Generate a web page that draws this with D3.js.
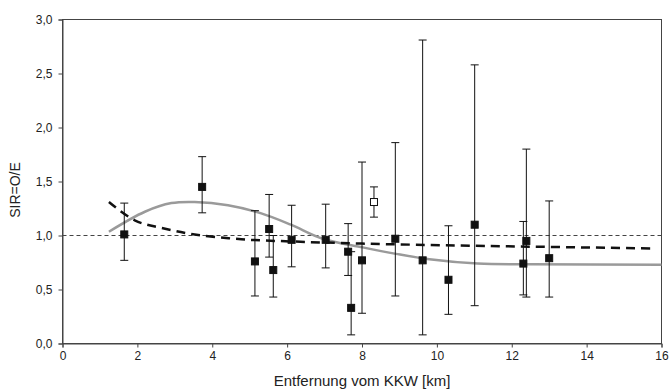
<!DOCTYPE html>
<html>
<head>
<meta charset="utf-8">
<script src="https://cdn.jsdelivr.net/npm/d3@7"></script>
<style>
  body { margin: 0; background: #fff; }
  text { font-family: "Liberation Sans", Arial, sans-serif; fill: #222; }
</style>
</head>
<body>
<div id="chart"></div>
<script>
// Messpunkte (Entfernung in km, SIR mit Konfidenzintervall)
var distance = [1.65, 3.73, 5.14, 5.52, 5.63, 6.12, 7.03, 7.63, 7.71, 8.0, 8.89, 9.62, 10.31, 11.01, 12.31, 12.39, 13.0];
var sir      = [1.01, 1.45, 0.76, 1.06, 0.68, 0.96, 0.96, 0.85, 0.33, 0.77, 0.97, 0.77, 0.59, 1.10, 0.74, 0.95, 0.79];
var upper    = [1.30, 1.73, 1.23, 1.38, 1.00, 1.28, 1.29, 1.11, 0.85, 1.68, 1.86, 2.81, 1.09, 2.58, 1.13, 1.80, 1.32];
var lower    = [0.77, 1.21, 0.44, 0.80, 0.43, 0.71, 0.70, 0.63, 0.08, 0.28, 0.44, 0.08, 0.27, 0.35, 0.45, 0.43, 0.43];

// offener Punkt
var openDistance = [8.32];
var openSir = [1.31];
var openUpper = [1.45];
var openLower = [1.17];

// Trendkurven
var dashX = [1.24, 1.93, 2.64, 3.53, 4.78, 6.11, 8.0, 11.0, 15.8];
var dashY = [1.31, 1.14, 1.07, 1.01, 0.965, 0.945, 0.925, 0.905, 0.88];
var grayX = [1.24, 2.2, 2.91, 3.53, 4.42, 5.31, 6.1, 6.95, 8.02, 8.91, 9.8, 11.09, 12.5, 16];
var grayY = [1.035, 1.22, 1.30, 1.31, 1.28, 1.205, 1.10, 0.97, 0.89, 0.83, 0.78, 0.74, 0.733, 0.73];

var xTicks = [0, 2, 4, 6, 8, 10, 12, 14, 16];
var yTicks = [0, 0.5, 1, 1.5, 2, 2.5, 3];

var width = 669, height = 392;
var margin = {top: 19.5, right: 7.5, bottom: 48.5, left: 62.5};

var svg = d3.select('#chart').append('svg')
  .attr('width', width)
  .attr('height', height);

var x = d3.scaleLinear().domain([0, 16]).range([margin.left, width - margin.right]);
var y = d3.scaleLinear().domain([0, 3]).range([height - margin.bottom, margin.top]);

var fmt = function (d) { return d3.format('.1f')(d).replace('.', ','); };

// Rahmen
svg.append('rect')
  .attr('x', x(0)).attr('y', y(3))
  .attr('width', x(16) - x(0)).attr('height', y(0) - y(3))
  .attr('fill', 'none').attr('stroke', '#444').attr('stroke-width', 1);

var xAxis = svg.append('g')
  .attr('transform', 'translate(0,' + y(0) + ')')
  .call(d3.axisBottom(x).tickValues(xTicks).tickSize(4).tickPadding(4).tickFormat(d3.format('d')));
var yAxis = svg.append('g')
  .attr('transform', 'translate(' + x(0) + ',0)')
  .call(d3.axisLeft(y).tickValues(yTicks).tickSize(4).tickPadding(6).tickFormat(fmt));

[xAxis, yAxis].forEach(function (a) {
  a.select('.domain').attr('stroke', '#444');
  a.selectAll('.tick line').attr('stroke', '#444');
  a.selectAll('.tick text').attr('font-size', 12).attr('fill', '#222')
    .style('font-family', '"Liberation Sans", Arial, sans-serif');
});

// Bezugslinie SIR = 1
svg.append('line')
  .attr('x1', x(0)).attr('x2', x(16))
  .attr('y1', y(1)).attr('y2', y(1))
  .attr('stroke', '#444').attr('stroke-width', 1.2)
  .attr('stroke-dasharray', '4,3');

var line = d3.line()
  .x(function (d) { return x(d[0]); })
  .y(function (d) { return y(d[1]); })
  .curve(d3.curveCatmullRom);

// graue Kurve
svg.append('path')
  .datum(d3.zip(grayX, grayY))
  .attr('d', line)
  .attr('fill', 'none').attr('stroke', '#9a9a9a').attr('stroke-width', 2.5);

// gestrichelte Kurve
svg.append('path')
  .datum(d3.zip(dashX, dashY))
  .attr('d', line)
  .attr('fill', 'none').attr('stroke', '#111').attr('stroke-width', 2.5)
  .attr('stroke-dasharray', '9,6');

function drawPoints(xs, ys, ups, los, filled) {
  var data = xs.map(function (d, i) {
    return {x: d, y: ys[i], up: ups[i], lo: los[i]};
  });
  var g = svg.append('g').selectAll('g').data(data).enter().append('g');
  g.append('line')
    .attr('x1', function (d) { return x(d.x); })
    .attr('x2', function (d) { return x(d.x); })
    .attr('y1', function (d) { return y(d.up); })
    .attr('y2', function (d) { return y(d.lo); })
    .attr('stroke', '#111').attr('stroke-width', 1);
  ['up', 'lo'].forEach(function (k) {
    g.append('line')
      .attr('x1', function (d) { return x(d.x) - 4; })
      .attr('x2', function (d) { return x(d.x) + 4; })
      .attr('y1', function (d) { return y(d[k]); })
      .attr('y2', function (d) { return y(d[k]); })
      .attr('stroke', '#111').attr('stroke-width', 1);
  });
  g.append('rect')
    .attr('x', function (d) { return x(d.x) - 3.5; })
    .attr('y', function (d) { return y(d.y) - 3.5; })
    .attr('width', 7).attr('height', 7)
    .attr('fill', filled ? '#111' : '#fff')
    .attr('stroke', '#111').attr('stroke-width', 1);
}

drawPoints(distance, sir, upper, lower, true);
drawPoints(openDistance, openSir, openUpper, openLower, false);

// Achsentitel
svg.append('text')
  .attr('x', (x(0) + x(16)) / 2).attr('y', 386)
  .attr('text-anchor', 'middle').attr('font-size', 15)
  .text('Entfernung vom KKW [km]');

svg.append('text')
  .attr('transform', 'translate(20,' + 190 + ') rotate(-90)')
  .attr('text-anchor', 'middle').attr('font-size', 14)
  .text('SIR=O/E');
</script>
</body>
</html>
